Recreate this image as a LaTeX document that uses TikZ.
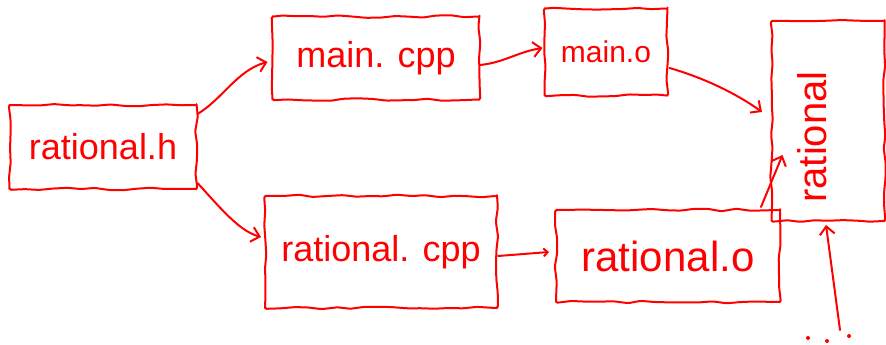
\documentclass[tikz,border=0pt]{standalone}
\usepackage{fontspec}
\setmainfont{Liberation Sans}
\usetikzlibrary{arrows.meta,calc,decorations.pathmorphing}

\begin{document}
\begin{tikzpicture}[x=1pt,y=-1pt,
  ink/.style={draw=red, line width=2pt, line cap=round, line join=round},
  filebox/.style={ink, text=red, inner sep=0pt, rectangle,
    decorate, decoration={random steps, segment length=14pt, amplitude=1.3pt},
    rounded corners=1.5pt},
  link/.style={ink, -{Straight Barb[length=8pt,width=15pt,line width=2pt]}},
  big/.style={font=\fontsize{36}{40}\selectfont},
]
\pgfmathsetseed{7}
\useasboundingbox (0,0) rectangle (886,345);

% source, header and object files
\node[filebox, big, minimum width=187pt, minimum height=84pt] (rh) at (103,147) {rational.h};
\node[filebox, big, minimum width=207pt, minimum height=83pt] (mc) at (376,58) {main. cpp};
\node[filebox, font=\fontsize{30}{34}\selectfont, minimum width=123pt, minimum height=87pt] (mo) at (606,52) {main.o};
\node[filebox, big, minimum width=232pt, minimum height=112pt] (rc) at (381,252) {rational. cpp};
\node[filebox, font=\fontsize{42}{46}\selectfont, minimum width=224pt, minimum height=92pt] (ro) at (668,256) {rational.o};

% the linked executable
\node[filebox, minimum width=113pt, minimum height=200pt] (ex) at (828,121) {};
\node[text=red, rotate=90, font=\fontsize{40}{44}\selectfont] (exlabel) at (812,137) {rational};

% dependency arrows
\draw[link] ($(rh.north east)+(0,10)$) .. controls +(25,-15) and +(-30,8) .. ($(mc.west)+(-4,4)$);
\draw[link] ($(rh.south east)+(0,-7)$) .. controls +(22,24) and +(-22,-6) .. ($(rc.west)+(-3,-15)$);
\draw[link] ($(mc.east)+(0,7)$) .. controls +(25,-3) and +(-25,4) .. ($(mo.west)+(-1,-4)$);
\coordinate (linkin) at (762,112);
\draw[link] ($(mo.east)+(1,16)$) .. controls +(35,10) and +(-25,-18) .. (linkin);
\draw[ink, -{Straight Barb[length=4pt,width=8pt,line width=2pt]}] ($(rc.east)+(0,4)$) -- ($(ro.west)+(-6,-4)$);
\draw[link] ($(ro.north east)+(-20,-2)$) -- ($(ex.west)+(12,34)$);
\coordinate (more) at (840,330);
\draw[link] (more) -- ($(ex.south)+(-2,3)$);

% further inputs
\foreach \px/\py [count=\k] in {808/338, 827/341, 849/336}
  \node[circle, fill=red, inner sep=0pt, minimum size=4pt] (dot\k) at (\px,\py) {};
\end{tikzpicture}
\end{document}
